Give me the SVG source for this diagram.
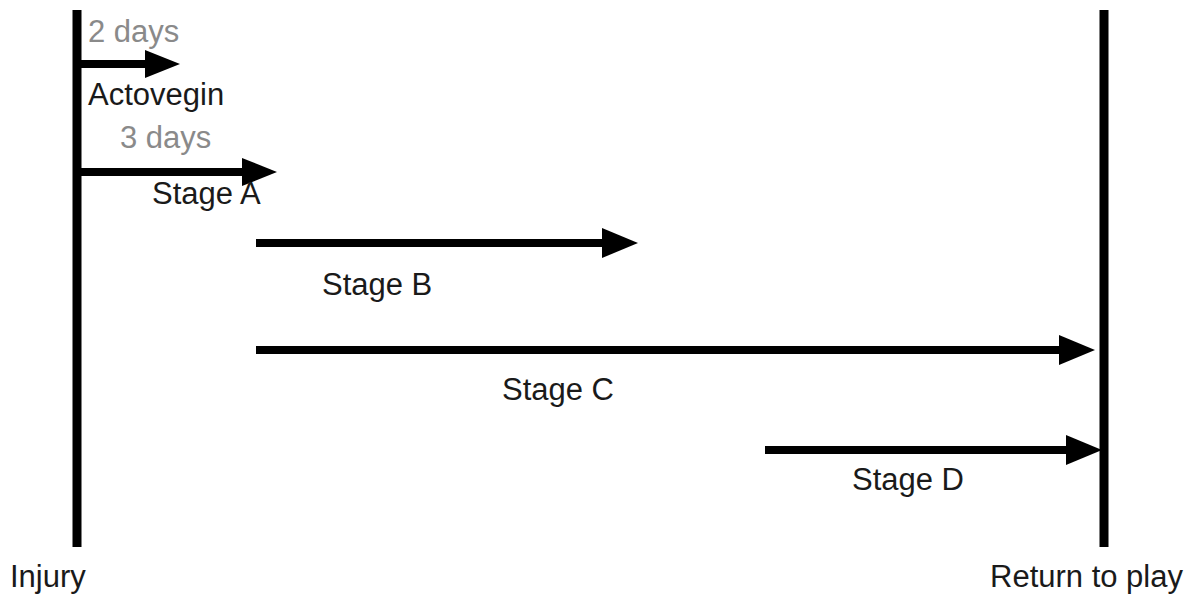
<svg xmlns="http://www.w3.org/2000/svg" width="1200" height="598" viewBox="0 0 1200 598">
<defs>
<marker id="ah" markerUnits="userSpaceOnUse" markerWidth="40" markerHeight="32" refX="2" refY="15" orient="auto">
<path d="M0,0 L36,15 L0,30 Z" fill="#000"/>
</marker>
<marker id="ahs" markerUnits="userSpaceOnUse" markerWidth="40" markerHeight="32" refX="2" refY="14" orient="auto">
<path d="M0,0 L35,14 L0,28 Z" fill="#000"/>
</marker>
</defs>
<style>
.t{font-family:"Liberation Sans",Arial,sans-serif;font-size:31px;fill:#1a1a1a}
.g{fill:#8a8a8a}
.bar{stroke:#000;stroke-width:9}
.arr{stroke:#000;stroke-width:8;fill:none}
</style>
<rect width="1200" height="598" fill="#fff"/>
<g id="injury">
<line class="bar" x1="77" y1="10" x2="77" y2="547"/>
<text class="t" x="10" y="587">Injury</text>
</g>
<g id="return-to-play">
<line class="bar" x1="1104" y1="10" x2="1104" y2="547"/>
<text class="t" x="990" y="587">Return to play</text>
</g>
<g id="connectors">
<line class="arr" x1="80" y1="64" x2="147" y2="64" marker-end="url(#ahs)"/>
<line class="arr" x1="80" y1="172" x2="244" y2="172" marker-end="url(#ahs)"/>
<line class="arr" x1="256" y1="243" x2="604" y2="243" marker-end="url(#ah)"/>
<line class="arr" x1="256" y1="350" x2="1061" y2="350" marker-end="url(#ah)"/>
<line class="arr" x1="765" y1="450" x2="1068" y2="450" marker-end="url(#ah)"/>
</g>
<g id="labels">
<text class="t g" x="88" y="42">2 days</text>
<text class="t" x="88" y="105">Actovegin</text>
<text class="t g" x="120" y="148">3 days</text>
<text class="t" x="152" y="204">Stage A</text>
<text class="t" x="322" y="295">Stage B</text>
<text class="t" x="502" y="400">Stage C</text>
<text class="t" x="852" y="490">Stage D</text>
</g>
</svg>
